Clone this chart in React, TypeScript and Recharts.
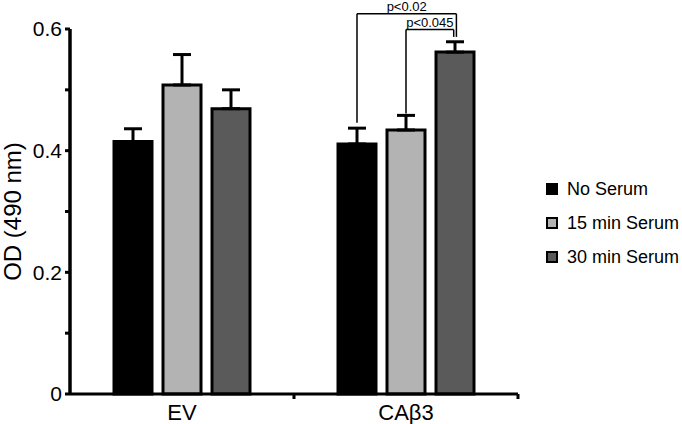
import { BarChart, Bar, XAxis, YAxis, ErrorBar, Legend, ReferenceLine } from "recharts";

// group labels + means
const categories = ["EV", "CAβ3"];
const noSerum = [0.415, 0.411];
const min15Serum = [0.508, 0.434];
const min30Serum = [0.469, 0.562];
// SEM (upper only)
const noSerumErr = [0.021, 0.026];
const min15Err = [0.05, 0.024];
const min30Err = [0.031, 0.017];

const yTicks = [0, 0.1, 0.2, 0.3, 0.4, 0.5, 0.6];

// significance brackets; x as a fraction of the plot width (hidden 0..1 axis)
const bracketLabels = ["p<0.02", "p<0.045"];
const bracketLevel = [0.625, 0.599];
const bracketFromX = [0.6406, 0.75];
const bracketToX = [0.8625, 0.8565];
const bracketFromBottom = [0.446, 0.461];
const bracketToBottom = [0.587, 0.587];

const series = [
  { key: "noSerum", name: "No Serum", fill: "#000000" },
  { key: "min15", name: "15 min Serum", fill: "#b3b3b3" },
  { key: "min30", name: "30 min Serum", fill: "#5a5a5a" },
];

const data = categories.map((name, i) => ({
  name,
  noSerum: noSerum[i],
  noSerumErr: [0, noSerumErr[i]],
  min15: min15Serum[i],
  min15Err: [0, min15Err[i]],
  min30: min30Serum[i],
  min30Err: [0, min30Err[i]],
}));

const FONT = "'Liberation Sans', Arial, sans-serif";

function XTick(props: any) {
  const { x, y, payload } = props;
  const half = payload && payload.offset ? payload.offset : 112;
  return (
    <g>
      <line x1={x + half} x2={x + half} y1={y} y2={y + 5} stroke="#000" strokeWidth={3} />
      <text x={x} y={y + 26} textAnchor="middle" fontSize={22} fontFamily={FONT} fill="#000">
        {payload.value}
      </text>
    </g>
  );
}

function LegendBox() {
  return (
    <div style={{ fontFamily: FONT, fontSize: 18, color: "#000" }}>
      {series.map((s) => (
        <div key={s.key} style={{ display: "flex", alignItems: "center", height: 34 }}>
          <span
            style={{
              display: "inline-block",
              width: 8,
              height: 8,
              background: s.fill,
              border: "2px solid #000",
              marginRight: 9,
            }}
          />
          {s.name}
        </div>
      ))}
    </div>
  );
}

export default function App() {
  return (
    <div style={{ position: "absolute", left: 0, top: 0, background: "#fff" }}>
      <BarChart
        width={682}
        height={424}
        data={data}
        margin={{ top: 29, right: 164, bottom: 0, left: 0 }}
        barSize={38}
        barGap={11}
      >
        <XAxis
          dataKey="name"
          height={30}
          axisLine={{ stroke: "#000", strokeWidth: 3 }}
          tickLine={false}
          tickSize={0}
          tickMargin={0}
          tick={<XTick />}
          interval={0}
        />
        <XAxis xAxisId="ann" type="number" domain={[0, 1]} allowDataOverflow hide />
        <YAxis
          width={70}
          domain={[0, 0.6]}
          ticks={yTicks}
          interval={0}
          axisLine={{ stroke: "#000", strokeWidth: 3.5 }}
          tickLine={{ stroke: "#000", strokeWidth: 3 }}
          tickSize={5}
          tickMargin={3}
          tick={{ fill: "#000", fontSize: 21, fontFamily: FONT }}
          tickFormatter={(v: number) => {
            const t = Math.round(v * 10);
            if (t % 2 !== 0) return "";
            return t === 0 ? "0" : v.toFixed(1);
          }}
          label={{
            value: "OD (490 nm)",
            angle: -90,
            position: "center",
            dx: -23,
            fontSize: 24,
            fontFamily: FONT,
            fill: "#000",
          }}
        />
        {series.map((s) => (
          <Bar
            key={s.key}
            dataKey={s.key}
            name={s.name}
            fill={s.fill}
            stroke="#000"
            strokeWidth={3}
            isAnimationActive={false}
          >
            <ErrorBar
              dataKey={s.key + "Err"}
              direction="y"
              width={9}
              stroke="#000"
              strokeWidth={3}
              isAnimationActive={false}
            />
          </Bar>
        ))}
        {bracketLabels.map((lab, i) => (
          <ReferenceLine
            key={"h" + i}
            xAxisId="ann"
            ifOverflow="visible"
            stroke="#000"
            strokeWidth={1.5}
            segment={[
              { x: bracketFromX[i], y: bracketLevel[i] },
              { x: bracketToX[i], y: bracketLevel[i] },
            ]}
            label={{ value: lab, position: "top", offset: 3, fontSize: 13, fontFamily: FONT, fill: "#000" }}
          />
        ))}
        {bracketLabels.map((lab, i) => (
          <ReferenceLine
            key={"l" + i}
            xAxisId="ann"
            ifOverflow="visible"
            stroke="#000"
            strokeWidth={1.5}
            segment={[
              { x: bracketFromX[i], y: bracketLevel[i] },
              { x: bracketFromX[i], y: bracketFromBottom[i] },
            ]}
          />
        ))}
        {bracketLabels.map((lab, i) => (
          <ReferenceLine
            key={"r" + i}
            xAxisId="ann"
            ifOverflow="visible"
            stroke="#000"
            strokeWidth={1.5}
            segment={[
              { x: bracketToX[i], y: bracketLevel[i] },
              { x: bracketToX[i], y: bracketToBottom[i] },
            ]}
          />
        ))}
        <Legend
          content={<LegendBox />}
          layout="horizontal"
          verticalAlign="middle"
          align="center"
          wrapperStyle={{ position: "absolute", left: 546, top: 172, width: 140 }}
        />
      </BarChart>
    </div>
  );
}
